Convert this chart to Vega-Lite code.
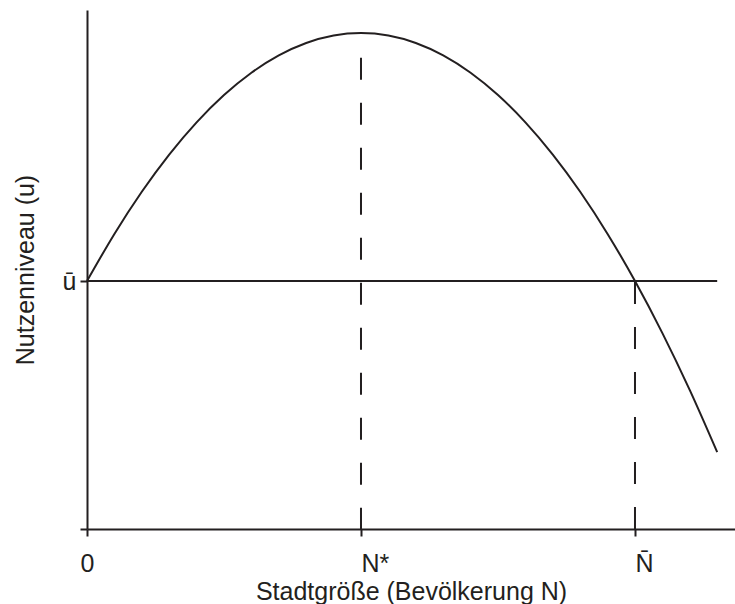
{
  "$schema": "https://vega.github.io/schema/vega-lite/v6.json",
  "width": 648,
  "height": 519,
  "autosize": {"type": "none"},
  "padding": {"left": 87, "top": 10, "right": 0, "bottom": 75},
  "background": "white",
  "config": {"view": {"stroke": null}, "font": "Liberation Sans"},
  "datasets": {
    "curve": [
      {"N": 0, "u": 1},
      {"N": 0.05, "u": 1.19},
      {"N": 0.1, "u": 1.36},
      {"N": 0.15, "u": 1.51},
      {"N": 0.2, "u": 1.64},
      {"N": 0.25, "u": 1.75},
      {"N": 0.3, "u": 1.84},
      {"N": 0.35, "u": 1.91},
      {"N": 0.4, "u": 1.96},
      {"N": 0.45, "u": 1.99},
      {"N": 0.5, "u": 2},
      {"N": 0.55, "u": 1.99},
      {"N": 0.6, "u": 1.96},
      {"N": 0.65, "u": 1.91},
      {"N": 0.7, "u": 1.84},
      {"N": 0.75, "u": 1.75},
      {"N": 0.8, "u": 1.64},
      {"N": 0.85, "u": 1.51},
      {"N": 0.9, "u": 1.36},
      {"N": 0.95, "u": 1.19},
      {"N": 1, "u": 1},
      {"N": 1.05, "u": 0.79},
      {"N": 1.1, "u": 0.56},
      {"N": 1.15, "u": 0.31}
    ],
    "baseline": [
      {"N": 0, "u": 1},
      {"N": 1.15, "u": 1}
    ],
    "guides": [
      {"N": 0.5, "u": 1.9, "u2": 0},
      {"N": 1, "u": 0, "u2": 1}
    ]
  },
  "encoding": {
    "x": {
      "field": "N",
      "type": "quantitative",
      "scale": {"domain": [0, 1.1825], "nice": false, "zero": true},
      "axis": {
        "title": "Stadtgröße (Bevölkerung N)",
        "values": [0, 0.5, 1],
        "labelExpr": "datum.value == 0 ? '0' : datum.value == 0.5 ? 'N*' : 'N\u0304'",
        "grid": false,
        "domainColor": "#231f20",
        "domainWidth": 2,
        "tickColor": "#231f20",
        "tickWidth": 2,
        "tickSize": 7,
        "labelFontSize": 25,
        "labelColor": "#231f20",
        "labelPadding": 15,
        "labelFlush": false,
        "labelOverlap": false,
        "labelAlign": {"condition": {"test": "datum.value == 0", "value": "center"}, "value": "left"},
        "titleFontSize": 25,
        "titleFontWeight": "normal",
        "titleColor": "#231f20",
        "titlePadding": 3
      }
    },
    "y": {
      "field": "u",
      "type": "quantitative",
      "scale": {"domain": [0, 2.093], "nice": false, "zero": true},
      "axis": {
        "title": "Nutzenniveau (u)",
        "values": [0, 1],
        "labelExpr": "datum.value == 1 ? 'ū' : ''",
        "grid": false,
        "domainColor": "#231f20",
        "domainWidth": 2,
        "tickColor": "#231f20",
        "tickWidth": 2,
        "tickSize": 7,
        "labelFontSize": 25,
        "labelColor": "#231f20",
        "labelPadding": 4,
        "labelOverlap": false,
        "labelFlush": false,
        "titleFontSize": 25,
        "titleFontWeight": "normal",
        "titleColor": "#231f20",
        "titlePadding": 24
      }
    }
  },
  "layer": [
    {
      "data": {"name": "curve"},
      "mark": {"type": "line", "interpolate": "monotone", "color": "#231f20", "strokeWidth": 2}
    },
    {
      "data": {"name": "baseline"},
      "mark": {"type": "line", "color": "#231f20", "strokeWidth": 2}
    },
    {
      "data": {"name": "guides"},
      "mark": {"type": "rule", "color": "#231f20", "strokeWidth": 2, "strokeDash": [22, 23]},
      "encoding": {"y2": {"field": "u2"}}
    }
  ]
}
